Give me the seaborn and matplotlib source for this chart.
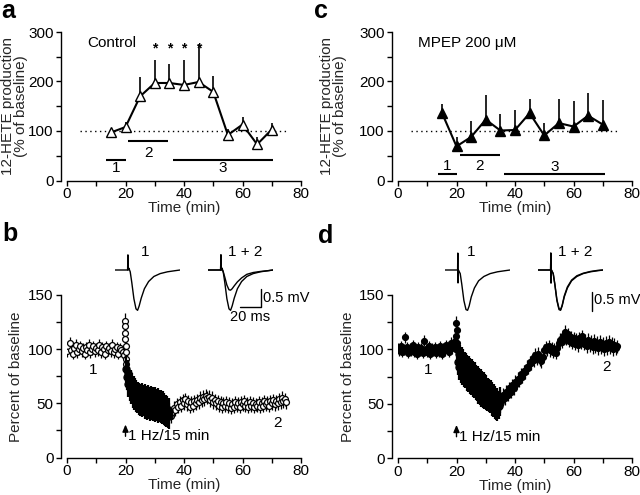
import numpy as np
import pandas as pd
import matplotlib
matplotlib.use("Agg")
import matplotlib.pyplot as plt
import seaborn as sns
from matplotlib.ticker import MultipleLocator

# ---------------- data: panels a & c (12-HETE production) ----------------
hete_time = [15, 20, 25, 30, 35, 40, 45, 50, 55, 60, 65, 70]
control_mean = [97, 108, 170, 197, 197, 193, 199, 179, 92, 113, 73, 103]
control_sem = [3, 10, 39, 47, 38, 50, 77, 33, 12, 15, 15, 13]
mpep_mean = [137, 69, 88, 123, 101, 102, 136, 91, 116, 109, 131, 113]
mpep_sem = [18, 19, 33, 49, 33, 41, 29, 25, 49, 51, 46, 49]
control_sig_times = [30, 35, 40, 45]
period_labels = ["1", "2", "3"]
control_periods = [(13.4, 20.1), (21.0, 34.7), (36.2, 70.3)]
mpep_periods = [(13.7, 20.0), (21.1, 34.9), (36.3, 70.6)]

# ---------------- data: panel b (control fEPSP, % of baseline) ----------------
b_base = [98, 103, 106, 99, 96, 101, 104, 97, 100, 103, 98, 101, 96, 102, 99, 104,
          97, 100, 103, 98, 101, 99, 104, 97, 102, 100, 96, 103, 99, 101, 98, 104,
          97, 100, 102, 96, 101, 99, 97, 95]
b_onset_t = [19.8, 19.85, 19.9, 19.95, 20.0, 20.05, 20.1, 20.15]
b_onset = [126, 121, 115, 109, 103, 97, 91, 86]
b_stim = [82, 74, 78, 68, 72, 64, 69, 61, 66, 58, 63, 56, 61, 54, 60, 53, 58, 51, 57, 50,
          56, 49, 57, 50, 55, 48, 56, 49, 54, 47, 55, 48, 53, 46, 54, 47, 53, 46, 52, 45,
          53, 46, 51, 44, 52, 45, 50, 44, 50, 43, 49, 42, 48, 41, 46, 40, 45, 39, 43, 38]
b_post = [38, 42, 46, 44, 49, 47, 51, 48, 53, 50, 54, 49, 52, 47, 51, 48, 52, 50, 53, 51,
          55, 53, 56, 54, 57, 55, 56, 53, 55, 51, 53, 50, 52, 48, 51, 47, 50, 48, 51, 47,
          50, 46, 49, 47, 51, 48, 50, 47, 51, 49, 52, 48, 50, 47, 51, 48, 50, 47, 49, 48,
          51, 47, 50, 48, 52, 49, 51, 48, 52, 50, 53, 49, 52, 50, 54, 51, 55, 52, 54, 51]

# ---------------- data: panel d (MPEP fEPSP, % of baseline) ----------------
d_base = [101, 99, 103, 98, 100, 111, 102, 97, 101, 99, 104, 98, 100, 96, 102, 99,
          101, 97, 108, 100, 98, 103, 96, 101, 99, 102, 97, 100, 98, 103, 96, 101,
          99, 104, 100, 98, 106, 101, 103, 108]
d_onset_t = [19.8, 19.9, 20.0, 20.1]
d_onset = [112, 124, 118, 106]
d_stim = [100, 88, 96, 84, 92, 81, 90, 79, 88, 77, 86, 76, 85, 74, 83, 73, 82, 71, 80, 70,
          79, 68, 77, 67, 76, 65, 74, 64, 73, 62, 71, 61, 70, 59, 68, 58, 67, 57, 65, 56,
          64, 55, 62, 54, 61, 53, 60, 51, 58, 50, 56, 48, 54, 47, 52, 46, 50, 48, 53, 51]
d_post = [53, 58, 55, 61, 58, 64, 61, 67, 64, 70, 68, 73, 71, 77, 75, 80, 79, 84, 83, 88,
          87, 92, 90, 95, 92, 96, 91, 89, 93, 99, 102, 100, 103, 99, 101, 98, 100, 97, 101, 106,
          109, 107, 112, 116, 110, 114, 108, 111, 106, 110, 105, 109, 104, 110, 106, 112, 105, 108, 103, 109,
          104, 107, 102, 108, 103, 106, 101, 107, 102, 105, 100, 106, 101, 107, 102, 105, 100, 104, 101, 103]

# sampling times (min) and errors of each recording segment
base_t0, base_dt = 0.0, 0.5
stim_t0, stim_dt = 20.25, 0.25
post_t0, post_dt = 35.5, 0.5
base_sem, onset_sem, stim_sem, post_sem = 5, 7, 12, 6
stim_start = 20

# ---------------- data: example fEPSP traces (ms, mV) ----------------
trace_t = [0, 12, 12.3, 12.6, 13.2, 14.5, 16, 18, 20, 21.5, 23, 25, 28, 32, 37, 43, 50, 57, 62]
b_trace1 = [0, 0, 0.42, 0.0, 0.05, -0.05, -0.35, -0.8, -1.08, -1.12, -1.0, -0.78, -0.52,
            -0.32, -0.18, -0.1, -0.05, -0.02, 0]
b_trace2 = [0, 0, 0.42, 0.0, 0.05, -0.05, -0.2, -0.42, -0.55, -0.56, -0.52, -0.44, -0.33,
            -0.22, -0.12, -0.07, -0.04, -0.02, 0]
d_trace_t = [0, 12, 12.2, 12.4, 12.8, 14.5, 16, 18, 20, 21.5, 23, 25, 28, 32, 37, 43, 50, 57, 62]
d_trace1 = [0, 0, 0.47, -0.36, 0.0, -0.1, -0.4, -0.85, -1.1, -1.12, -1.0, -0.75, -0.5,
            -0.3, -0.18, -0.1, -0.05, -0.02, 0]
d_trace2 = [0, 0, 0.47, -0.36, 0.0, -0.1, -0.38, -0.82, -1.07, -1.1, -0.98, -0.72, -0.47,
            -0.28, -0.16, -0.09, -0.04, -0.01, 0]

# ---------------- style ----------------
sns.set_theme(style="ticks")
plt.rcParams["font.family"] = ["Liberation Sans", "DejaVu Sans"]
plt.rcParams["axes.linewidth"] = 1.0
plt.rcParams["text.color"] = "black"
FS = 11

fig = plt.figure(figsize=(6.4, 4.95), dpi=100)
W, H = 640.0, 495.0


def px_axes(left, right, top, bottom):
    return fig.add_axes([left / W, 1 - bottom / H, (right - left) / W, (bottom - top) / H])


def style_axes(ax, ymax, ymajor, yminor, ylabel, pad):
    ax.set_xlim(0, 80)
    ax.set_ylim(0, ymax)
    ax.xaxis.set_major_locator(MultipleLocator(20))
    ax.xaxis.set_minor_locator(MultipleLocator(10))
    ax.yaxis.set_major_locator(MultipleLocator(ymajor))
    ax.yaxis.set_minor_locator(MultipleLocator(yminor))
    for s in ["top", "right"]:
        ax.spines[s].set_visible(False)
    ax.spines["left"].set_position(("outward", 4.5))
    for s in ["left", "bottom"]:
        ax.spines[s].set_color("black")
        ax.spines[s].set_linewidth(1.0)
    ax.tick_params(which="both", direction="out", length=3.5, width=1.0, colors="black",
                   labelsize=FS, pad=1.5)
    ax.set_xlabel("Time (min)", fontsize=FS, labelpad=0)
    ax.set_ylabel(ylabel, fontsize=FS, labelpad=pad, linespacing=0.9)
    ax.set_facecolor("none")


# ---------- panels a & c ----------
def hete_panel(ax, mean, sem, filled, title, periods, bar_levels, lab_levels, pad):
    style_axes(ax, 300, 100, 50, "12-HETE production\n(% of baseline)", pad)
    ax.hlines(100, 4.5, 76, colors="black", linestyles=(0, (1, 2.5)), lw=1.0, zorder=0)
    top = [m + s for m, s in zip(mean, sem)]
    ax.vlines(hete_time, mean, top, colors="black", lw=1.2, zorder=1)
    sns.lineplot(x=hete_time, y=mean, ax=ax, color="black", lw=1.5, marker="^",
                 markersize=7.5, markerfacecolor="black" if filled else "white",
                 markeredgecolor="black", markeredgewidth=1.0, zorder=2)
    for (x0, x1), lab, by, ly in zip(periods, period_labels, bar_levels, lab_levels):
        ax.hlines(by, x0, x1, colors="black", lw=1.5)
        ax.text((x0 + x1) / 2, ly, lab, fontsize=FS, ha="center", va="center")
    ax.text(7, 278, title, fontsize=FS, ha="left", va="center")


ax_a = px_axes(67, 301, 32, 180.5)
hete_panel(ax_a, control_mean, control_sem, False, "Control", control_periods,
           [42, 79, 42], [25, 55, 25], 0.5)
for t in control_sig_times:
    ax_a.text(t, 266, "*", fontsize=10, ha="center", va="center", fontweight="bold")

ax_c = px_axes(398, 632, 32, 180.5)
hete_panel(ax_c, mpep_mean, mpep_sem, True, "MPEP 200 \u03bcM", mpep_periods,
           [13.5, 50.6, 13.5], [30, 30, 28], 9)


# ---------- panels b & d ----------
def segments(base, onset_t, onset, stim, post):
    parts = []
    parts.append(pd.DataFrame({"t": base_t0 + base_dt * np.arange(len(base)), "v": base,
                               "sem": base_sem, "seg": "base"}))
    parts.append(pd.DataFrame({"t": onset_t, "v": onset, "sem": onset_sem, "seg": "onset"}))
    parts.append(pd.DataFrame({"t": stim_t0 + stim_dt * np.arange(len(stim)), "v": stim,
                               "sem": stim_sem, "seg": "stim"}))
    parts.append(pd.DataFrame({"t": post_t0 + post_dt * np.arange(len(post)), "v": post,
                               "sem": post_sem, "seg": "post"}))
    return pd.concat(parts, ignore_index=True)


def fepsp_panel(ax, df, filled, lab1, lab2, pad):
    style_axes(ax, 150, 50, 25, "Percent of baseline", pad)
    quiet = df[df["seg"] != "stim"]
    busy = df[df["seg"] == "stim"]
    ax.errorbar(quiet["t"], quiet["v"], yerr=quiet["sem"], fmt="none", ecolor="black",
                elinewidth=0.9, capsize=0, zorder=1)
    ax.errorbar(busy["t"], busy["v"], yerr=busy["sem"], fmt="none", ecolor="black",
                elinewidth=1.6, capsize=0, zorder=3)
    fc = "black" if filled else "white"
    sns.scatterplot(data=quiet, x="t", y="v", ax=ax, color=fc, edgecolor="black",
                    linewidth=0.9, s=18, zorder=2, legend=False)
    sns.scatterplot(data=busy, x="t", y="v", ax=ax, color="black", edgecolor="black",
                    linewidth=0.9, s=26, zorder=2, legend=False)
    ax.annotate("", xy=(stim_start, 33), xytext=(stim_start, 17),
                arrowprops=dict(arrowstyle="-|>,head_length=0.35,head_width=0.15",
                                lw=1.0, color="black"))
    ax.text(stim_start + 0.8, 19.5, "1 Hz/15 min", fontsize=FS, ha="left", va="center")
    ax.text(lab1[0], lab1[1], "1", fontsize=FS, ha="center", va="center")
    ax.text(lab2[0], lab2[1], "2", fontsize=FS, ha="center", va="center")


ax_b = px_axes(67, 301, 295, 457.5)
fepsp_panel(ax_b, segments(b_base, b_onset_t, b_onset, b_stim, b_post), False,
            (9, 81), (72, 32), 4)
ax_d = px_axes(398, 632, 295, 458)
fepsp_panel(ax_d, segments(d_base, d_onset_t, d_onset, d_stim, d_post), True,
            (10.3, 81), (71.4, 84), 3)

# ---------- example traces ----------
PPMS, PPMV = 1.05, 36.0


def trace_axes(x0, base_y):
    ax = fig.add_axes([x0 / W, 1 - (base_y + 1.3 * PPMV) / H, 62 * PPMS / W, 1.9 * PPMV / H])
    ax.set_xlim(0, 62)
    ax.set_ylim(-1.3, 0.6)
    ax.axis("off")
    return ax


def draw_trace(ax, t, v):
    sns.lineplot(x=t, y=v, ax=ax, color="black", lw=1.0, estimator=None, sort=False)


tb1 = trace_axes(115, 270)
draw_trace(tb1, trace_t, b_trace1)
tb1.text(25, 0.5, "1", fontsize=FS, ha="left", va="center")
tb2 = trace_axes(208, 270)
draw_trace(tb2, trace_t, b_trace1)
draw_trace(tb2, trace_t, b_trace2)
tb2.text(19, 0.5, "1 + 2", fontsize=FS, ha="left", va="center")
tb2.plot([30, 50, 50], [-1.03, -1.03, -0.53], color="black", lw=1.0, clip_on=False)
tb2.text(52, -0.78, "0.5 mV", fontsize=FS - 0.5, ha="left", va="center")
tb2.text(40, -1.12, "20 ms", fontsize=FS - 0.5, ha="center", va="top")

td1 = trace_axes(445, 270)
draw_trace(td1, d_trace_t, d_trace1)
td1.text(21, 0.5, "1", fontsize=FS, ha="left", va="center")
td2 = trace_axes(538, 270)
draw_trace(td2, d_trace_t, d_trace1)
draw_trace(td2, d_trace_t, d_trace2)
td2.text(19, 0.5, "1 + 2", fontsize=FS, ha="left", va="center")
td2.plot([51, 51], [-1.15, -0.62], color="black", lw=1.0, clip_on=False)
td2.text(53.5, -0.84, "0.5 mV", fontsize=FS - 0.5, ha="left", va="center")

# ---------- panel letters ----------
for x, y, s in [(1, 18, "a"), (2, 241, "b"), (314, 18, "c"), (318, 243, "d")]:
    fig.text(x / W, 1 - y / H, s, fontsize=18, fontweight="bold", ha="left", va="baseline")

fig.savefig("out.png", dpi=100, facecolor="white")
